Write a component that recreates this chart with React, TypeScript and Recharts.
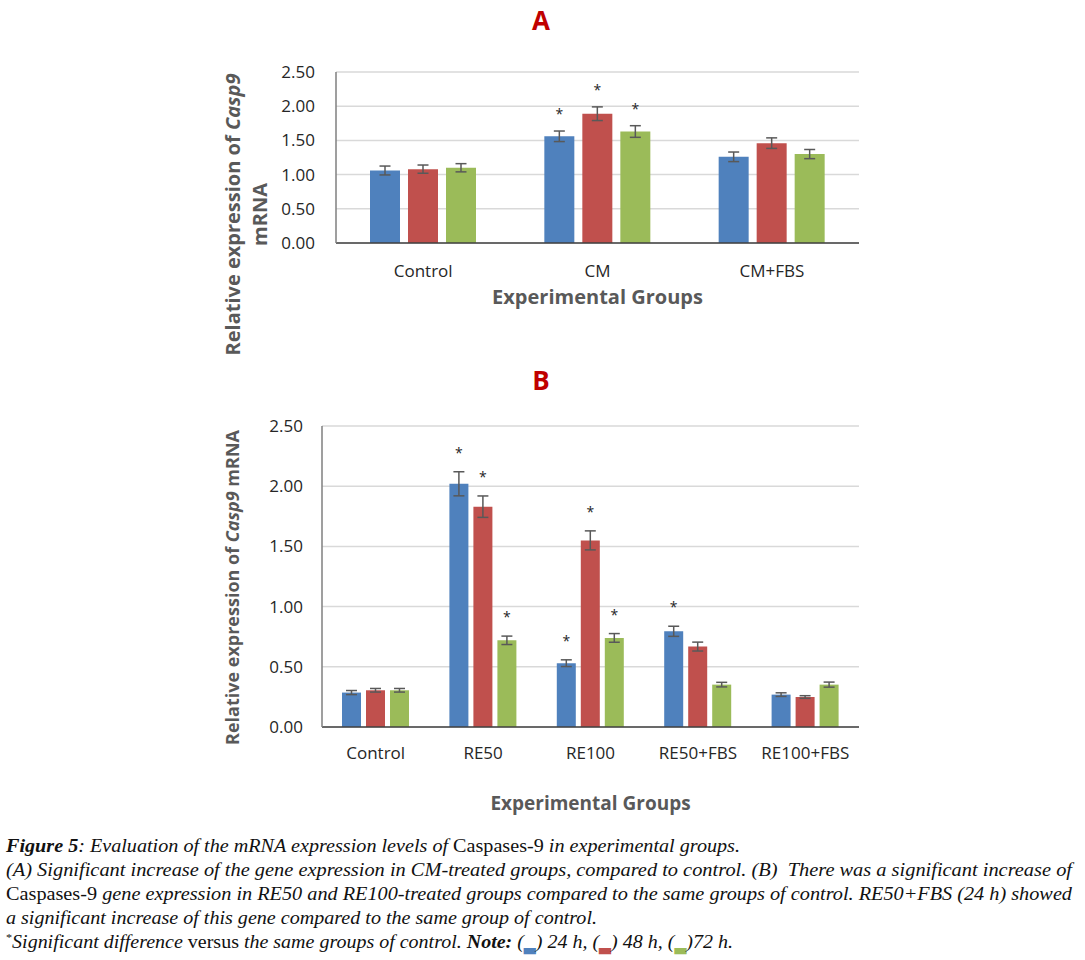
import { BarChart, Bar, XAxis, YAxis, CartesianGrid, ErrorBar, LabelList } from 'recharts';

// panel A – CM groups
const groupsA = ['Control', 'CM', 'CM+FBS'];
const a24 = [1.06, 1.56, 1.26];
const a48 = [1.08, 1.89, 1.46];
const a72 = [1.1, 1.63, 1.3];
const aErr24 = [0.065, 0.077, 0.07];
const aErr48 = [0.06, 0.1, 0.077];
const aErr72 = [0.06, 0.085, 0.067];
const aSig24 = [false, true, false];
const aSig48 = [false, true, false];
const aSig72 = [false, true, false];

// panel B – RE groups
const groupsB = ['Control', 'RE50', 'RE100', 'RE50+FBS', 'RE100+FBS'];
const b24 = [0.286, 2.02, 0.53, 0.795, 0.269];
const b48 = [0.305, 1.83, 1.55, 0.668, 0.249];
const b72 = [0.305, 0.72, 0.74, 0.352, 0.352];
const bErr24 = [0.017, 0.1, 0.028, 0.042, 0.015];
const bErr48 = [0.015, 0.089, 0.079, 0.037, 0.011];
const bErr72 = [0.015, 0.035, 0.036, 0.019, 0.021];
const bSig24 = [false, true, true, true, false];
const bSig48 = [false, true, true, false, false];
const bSig72 = [false, true, true, false, false];

const yTicks = [0, 0.5, 1, 1.5, 2, 2.5];

const BLUE = '#4F81BD';
const RED = '#C0504D';
const GREEN = '#9BBB59';
const FONT = "'Open Sans', 'Liberation Sans', sans-serif";
const SERIF = "'Liberation Serif', 'Times New Roman', serif";

const buildRows = (groups: string[], v24: number[], v48: number[], v72: number[], e24: number[], e48: number[], e72: number[]) =>
  groups.map((g, i) => ({ group: g, idx: i, h24: v24[i], h48: v48[i], h72: v72[i], e24: e24[i], e48: e48[i], e72: e72[i] }));

const rowsA = buildRows(groupsA, a24, a48, a72, aErr24, aErr48, aErr72);
const rowsB = buildRows(groupsB, b24, b48, b72, bErr24, bErr48, bErr72);

// asterisk sitting above the error bar of a significant bar
const star = (values: number[], errs: number[], sig: boolean[], gap: number) => (props: any) => {
  const i = Number(props.value);
  if (!sig[i]) return null;
  const vb = props.viewBox ?? props;
  const { x, y, width, height } = vb;
  const ppu = height / values[i];
  const errTop = y - errs[i] * ppu;
  return (
    <text x={x + width / 2} y={errTop - gap + 8} textAnchor="middle" fontSize={14} fill="#262626" fontFamily={FONT}>
      *
    </text>
  );
};

const tickStyle = { fontSize: 17, fill: '#262626', fontFamily: FONT };

const xTitle = (dy: number, size: number) => (props: any) => {
  const vb = props.viewBox;
  return (
    <text x={vb.x + vb.width / 2} y={vb.y + dy} textAnchor="middle" fontSize={size} fontWeight="bold" fill="#595959" fontFamily={FONT}>
      Experimental Groups
    </text>
  );
};

const yTitleA = (props: any) => {
  const vb = props.viewBox;
  const cy = vb.y + vb.height / 2 + 57;
  const cx = vb.x + 240;
  return (
    <text transform={`rotate(-90, ${cx}, ${cy})`} x={cx} y={cy} textAnchor="middle" fontSize={20} fontWeight="bold" fill="#595959" fontFamily={FONT}>
      <tspan x={cx}>
        Relative expression of <tspan fontStyle="italic">Casp9</tspan>
      </tspan>
      <tspan x={cx} dy={27}>mRNA</tspan>
    </text>
  );
};

const yTitleB = (props: any) => {
  const vb = props.viewBox;
  const cy = vb.y + vb.height / 2 + 11;
  const cx = vb.x + 238.5;
  return (
    <text transform={`rotate(-90, ${cx}, ${cy})`} x={cx} y={cy} textAnchor="middle" fontSize={18} fontWeight="bold" fill="#595959" fontFamily={FONT}>
      Relative expression of <tspan fontStyle="italic">Casp9</tspan> mRNA
    </text>
  );
};

const PanelTitle = ({ text, top }: { text: string; top: number }) => (
  <div style={{ position: 'absolute', left: 0, top, width: 1082, textAlign: 'center', fontFamily: FONT, fontWeight: 'bold', fontSize: 26, lineHeight: '26px', color: '#C00000' }}>
    {text}
  </div>
);

const errStyle = { stroke: '#595959', strokeWidth: 1.5 };

const App = () => {
  return (
    <div style={{ position: 'absolute', left: 0, top: 0, width: 1085, height: 960, background: '#fff', overflow: 'hidden' }}>
      <PanelTitle text="A" top={7} />
      <div style={{ position: 'absolute', left: 0, top: 0 }}>
        <BarChart width={880} height={358} data={rowsA} margin={{ top: 72, right: 21, bottom: 11, left: 0 }} barSize={30} barGap={8}>
          <CartesianGrid vertical={false} stroke="#d9d9d9" strokeWidth={1.5} />
          <XAxis dataKey="group" height={104} tickLine={false} tickMargin={16} axisLine={{ stroke: '#404040', strokeWidth: 1.5 }} tick={tickStyle} label={xTitle(61, 20)} />
          <YAxis width={336} domain={[0, 2.5]} ticks={yTicks} tickFormatter={(v: number) => v.toFixed(2)} tickLine={false} tickMargin={15} axisLine={{ stroke: '#7f7f7f', strokeWidth: 1.5 }} tick={tickStyle} label={yTitleA} />
          <Bar dataKey="h24" fill={BLUE} isAnimationActive={false}>
            <ErrorBar dataKey="e24" width={5.5} {...errStyle} isAnimationActive={false} />
            <LabelList dataKey="idx" content={star(a24, aErr24, aSig24, 20)} />
          </Bar>
          <Bar dataKey="h48" fill={RED} isAnimationActive={false}>
            <ErrorBar dataKey="e48" width={5.5} {...errStyle} isAnimationActive={false} />
            <LabelList dataKey="idx" content={star(a48, aErr48, aSig48, 20)} />
          </Bar>
          <Bar dataKey="h72" fill={GREEN} isAnimationActive={false}>
            <ErrorBar dataKey="e72" width={5.5} {...errStyle} isAnimationActive={false} />
            <LabelList dataKey="idx" content={star(a72, aErr72, aSig72, 20)} />
          </Bar>
        </BarChart>
      </div>

      <PanelTitle text="B" top={367} />
      <div style={{ position: 'absolute', left: 0, top: 360 }}>
        <BarChart width={880} height={470} data={rowsB} margin={{ top: 66, right: 21, bottom: 0, left: 0 }} barSize={19} barGap={5}>
          <CartesianGrid vertical={false} stroke="#d9d9d9" strokeWidth={1.5} />
          <XAxis dataKey="group" height={103} tickLine={false} tickMargin={14} axisLine={{ stroke: '#404040', strokeWidth: 1.5 }} tick={tickStyle} label={xTitle(83, 19)} />
          <YAxis width={322} domain={[0, 2.5]} ticks={yTicks} tickFormatter={(v: number) => v.toFixed(2)} tickLine={false} tickMargin={13} axisLine={{ stroke: '#7f7f7f', strokeWidth: 1.5 }} tick={tickStyle} label={yTitleB} />
          <Bar dataKey="h24" fill={BLUE} isAnimationActive={false}>
            <ErrorBar dataKey="e24" width={5.5} {...errStyle} isAnimationActive={false} />
            <LabelList dataKey="idx" content={star(b24, bErr24, bSig24, 22)} />
          </Bar>
          <Bar dataKey="h48" fill={RED} isAnimationActive={false}>
            <ErrorBar dataKey="e48" width={5.5} {...errStyle} isAnimationActive={false} />
            <LabelList dataKey="idx" content={star(b48, bErr48, bSig48, 22)} />
          </Bar>
          <Bar dataKey="h72" fill={GREEN} isAnimationActive={false}>
            <ErrorBar dataKey="e72" width={5.5} {...errStyle} isAnimationActive={false} />
            <LabelList dataKey="idx" content={star(b72, bErr72, bSig72, 22)} />
          </Bar>
        </BarChart>
      </div>

      {/* figure caption */}
      <svg style={{ position: 'absolute', left: 0, top: 820 }} width={1085} height={140}>
        <g fontFamily={SERIF} fontSize={18} fill="#111111">
          <text x={6} y={32} textLength={734} lengthAdjust="spacingAndGlyphs">
            <tspan fontStyle="italic" fontWeight="bold">Figure 5</tspan>
            <tspan fontStyle="italic">: Evaluation of the mRNA expression levels of </tspan>
            <tspan>Caspases-9</tspan>
            <tspan fontStyle="italic"> in experimental groups.</tspan>
          </text>
          <text x={6} y={56} textLength={1066} lengthAdjust="spacingAndGlyphs" fontStyle="italic" xmlSpace="preserve">
            {'(A) Significant increase of the gene expression in CM-treated groups, compared to control. (B)  There was a significant increase of'}
          </text>
          <text x={6} y={80} textLength={1066} lengthAdjust="spacingAndGlyphs">
            <tspan>Caspases-9</tspan>
            <tspan fontStyle="italic"> gene expression in RE50 and RE100-treated groups compared to the same groups of control. RE50+FBS (24 h) showed</tspan>
          </text>
          <text x={6} y={104} textLength={591} lengthAdjust="spacingAndGlyphs" fontStyle="italic">
            a significant increase of this gene compared to the same group of control.
          </text>
          <text x={6} y={128} textLength={727} lengthAdjust="spacingAndGlyphs">
            <tspan fontSize={11} dy={-7}>*</tspan>
            <tspan fontStyle="italic" dy={7}>Significant difference</tspan>
            <tspan> versus </tspan>
            <tspan fontStyle="italic">the same groups of control. </tspan>
            <tspan fontStyle="italic" fontWeight="bold">Note:</tspan>
            <tspan fontStyle="italic"> (</tspan>
            <tspan fill={BLUE} fontFamily="'DejaVu Sans'" fontSize={14} dy={3}>▃</tspan>
            <tspan fontStyle="italic" dy={-3}>) 24 h, (</tspan>
            <tspan fill={RED} fontFamily="'DejaVu Sans'" fontSize={14} dy={3}>▃</tspan>
            <tspan fontStyle="italic" dy={-3}>) 48 h, (</tspan>
            <tspan fill={GREEN} fontFamily="'DejaVu Sans'" fontSize={14} dy={3}>▃</tspan>
            <tspan fontStyle="italic" dy={-3}>)72 h.</tspan>
          </text>
        </g>
      </svg>
    </div>
  );
};

export default App;
